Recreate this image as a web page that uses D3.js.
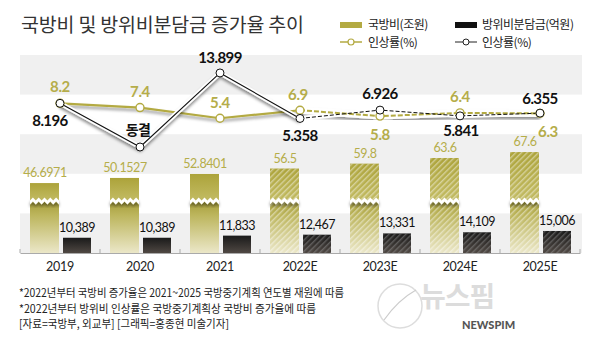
<!DOCTYPE html>
<html>
<head>
<meta charset="utf-8">
<script src="https://cdn.jsdelivr.net/npm/d3@7"></script>
<style>
  body { margin: 0; background: #fff; }
  svg { display: block; }
  .kr { font-family: "Noto Sans CJK KR", "Noto Sans", sans-serif; }
  .num { font-family: Lato, "Noto Sans", sans-serif; }
</style>
</head>
<body>
<div id="chart"></div>
<script>
/* DATA */
const years = ["2019", "2020", "2021", "2022E", "2023E", "2024E", "2025E"];
const budget = [46.6971, 50.1527, 52.8401, 56.5, 59.8, 63.6, 67.6];        // 국방비(조원)
const share = [10389, 10389, 11833, 12467, 13331, 14109, 15006];          // 방위비분담금(억원)
const budgetRate = [8.2, 7.4, 5.4, 6.9, 5.8, 6.4, 6.3];                   // 국방비 인상률(%)
const shareRate = [8.196, 0, 13.899, 5.358, 6.926, 5.841, 6.355];         // 방위비분담금 인상률(%)
const notes = [
  "*2022년부터 국방비 증가율은 2021~2025 국방중기계획 연도별 재원에 따름",
  "*2022년부터 방위비 인상률은 국방중기계획상 국방비 증가율에 따름",
  "[자료=국방부, 외교부] [그래픽=홍종현 미술기자]"
];

/* CONSTANTS */
const width = 600, height = 350;
const plot = { left: 20, right: 580, top: 55, base: 253 };
const olive = "#b3aa42", oliveText = "#b5ad4a";

// label placement (dx, dy from the point)
const budgetRateOff = [[0, -11], [0, -11], [0, -10], [-2, -10], [0, 24], [0, -11], [8, 24]];
const shareRateOff = [[-10, 23], [-2, -12], [0, -10], [0, 23], [0, -11], [1, 20], [0, -9]];

const svg = d3.select("#chart").append("svg")
  .attr("width", width)
  .attr("height", height);

const defs = svg.append("defs");

// gradients
const gTop = defs.append("linearGradient").attr("id", "oliveTop").attr("x1", 0).attr("x2", 0).attr("y1", 0).attr("y2", 1);
gTop.append("stop").attr("offset", 0).attr("stop-color", "#aca33a");
gTop.append("stop").attr("offset", 1).attr("stop-color", "#c3bc64");

const gBottom = defs.append("linearGradient").attr("id", "oliveBottom").attr("gradientUnits", "userSpaceOnUse")
  .attr("x1", 0).attr("x2", 0).attr("y1", 203).attr("y2", plot.base);
gBottom.append("stop").attr("offset", 0).attr("stop-color", "#a9a13e");
gBottom.append("stop").attr("offset", 0.25).attr("stop-color", "#bdb65e");
gBottom.append("stop").attr("offset", 1).attr("stop-color", "#ebe7c8");

const gBlack = defs.append("linearGradient").attr("id", "blackGrad").attr("x1", 0).attr("x2", 0).attr("y1", 0).attr("y2", 1);
gBlack.append("stop").attr("offset", 0).attr("stop-color", "#1a1a1a");
gBlack.append("stop").attr("offset", 1).attr("stop-color", "#4f4843");

// hatch patterns for estimates
function hatch(id, color, op) {
  const p = defs.append("pattern").attr("id", id)
    .attr("patternUnits", "userSpaceOnUse")
    .attr("width", 4).attr("height", 4)
    .attr("patternTransform", "rotate(45)");
  p.append("rect").attr("x", 0).attr("y", 0).attr("width", 1.4).attr("height", 4)
    .attr("fill", color).attr("opacity", op);
}
hatch("hatchOlive", "#ffffff", 0.45);
hatch("hatchBlack", "#9a9a9a", 0.45);

// drop shadow
const f = defs.append("filter").attr("id", "shadow").attr("x", "-20%").attr("y", "-50%").attr("width", "140%").attr("height", "200%");
f.append("feDropShadow").attr("dx", 0).attr("dy", 2.5).attr("stdDeviation", 1.8)
  .attr("flood-color", "#000").attr("flood-opacity", 0.45);

/* SCALES */
const xScale = d3.scaleBand().domain(years).range([plot.left, plot.right]);
const cx = d => xScale(d) + xScale.bandwidth() / 2;

// broken axis for 국방비
const yBudget = d3.scaleLinear().domain([40, 70]).range([193, 148.5]);
const yShare = d3.scaleLinear().domain([0, 16000]).range([plot.base, plot.base - 23.5]);
const yRate = d3.scaleLinear().domain([0, 14]).range([147, 72.4]);

/* BACKGROUND BANDS */
const bandH = (plot.base - plot.top) / 5;
svg.append("g").selectAll("rect")
  .data(d3.range(0, 5, 2))
  .join("rect")
  .attr("x", plot.left)
  .attr("y", i => plot.top + i * bandH)
  .attr("width", plot.right - plot.left + 2)
  .attr("height", bandH)
  .attr("fill", "#f0f0f0");

/* TITLE */
svg.append("text").attr("class", "kr")
  .attr("x", 21).attr("y", 32)
  .attr("font-size", 19.5).attr("letter-spacing", -0.2)
  .attr("fill", "#333")
  .text("국방비 및 방위비분담금 증가율 추이");

/* LEGEND */
const legend = svg.append("g").attr("class", "kr").attr("font-size", 12).attr("letter-spacing", -0.5).attr("fill", "#222");
legend.append("rect").attr("x", 340).attr("y", 22).attr("width", 22).attr("height", 6).attr("fill", olive);
legend.append("text").attr("x", 368).attr("y", 29).text("국방비(조원)");
legend.append("rect").attr("x", 455).attr("y", 22).attr("width", 22).attr("height", 6).attr("fill", "#111");
legend.append("text").attr("x", 482).attr("y", 29).text("방위비분담금(억원)");
legend.append("line").attr("x1", 340).attr("x2", 362).attr("y1", 42).attr("y2", 42).attr("stroke", olive).attr("stroke-width", 1.5);
legend.append("circle").attr("cx", 351).attr("cy", 42).attr("r", 3).attr("fill", "#fff").attr("stroke", olive).attr("stroke-width", 1.2);
legend.append("text").attr("x", 368).attr("y", 47).text("인상률(%)");
legend.append("line").attr("x1", 455).attr("x2", 477).attr("y1", 42).attr("y2", 42).attr("stroke", "#222").attr("stroke-width", 1);
legend.append("circle").attr("cx", 466).attr("cy", 42).attr("r", 3).attr("fill", "#fff").attr("stroke", "#222").attr("stroke-width", 1);
legend.append("text").attr("x", 482).attr("y", 47).text("인상률(%)");

/* BARS */
const rows = years.map((y, i) => ({ year: y, budget: budget[i], share: share[i], est: y.endsWith("E") }));

const bars = svg.append("g").selectAll("g")
  .data(rows)
  .join("g");

// olive bar upper part
bars.append("rect")
  .attr("x", d => cx(d.year) - 30)
  .attr("y", d => yBudget(d.budget))
  .attr("width", 29)
  .attr("height", d => 201 - yBudget(d.budget))
  .attr("fill", "url(#oliveTop)");
// olive bar lower part
bars.append("rect")
  .attr("x", d => cx(d.year) - 30)
  .attr("y", 201)
  .attr("width", 29)
  .attr("height", plot.base - 201)
  .attr("fill", "url(#oliveBottom)");
bars.filter(d => d.est).append("rect")
  .attr("x", d => cx(d.year) - 30)
  .attr("y", d => yBudget(d.budget))
  .attr("width", 29)
  .attr("height", d => plot.base - yBudget(d.budget))
  .attr("fill", "url(#hatchOlive)");

// zigzag break
function zigzag(x0, w) {
  const pts = [];
  const n = 5, step = w / n;
  for (let k = 0; k <= n * 2; k++) pts.push([x0 + k * step / 2, k % 2 ? 197.5 : 200.5]);
  for (let k = n * 2; k >= 0; k--) pts.push([x0 + k * step / 2, k % 2 ? 201.5 : 204.5]);
  return "M" + pts.map(p => p.join(",")).join("L") + "Z";
}
bars.append("path")
  .attr("d", d => zigzag(cx(d.year) - 30, 29))
  .attr("fill", "#fff")
  .attr("filter", "url(#shadow)");

// black bars
bars.append("rect")
  .attr("x", d => cx(d.year) + 3)
  .attr("y", d => yShare(d.share))
  .attr("width", 28)
  .attr("height", d => plot.base - yShare(d.share))
  .attr("fill", "url(#blackGrad)");
bars.filter(d => d.est).append("rect")
  .attr("x", d => cx(d.year) + 3)
  .attr("y", d => yShare(d.share))
  .attr("width", 28)
  .attr("height", d => plot.base - yShare(d.share))
  .attr("fill", "url(#hatchBlack)");

// bar labels
bars.append("text").attr("class", "num")
  .attr("x", d => cx(d.year) - 15)
  .attr("y", d => yBudget(d.budget) - 6)
  .attr("text-anchor", "middle")
  .attr("font-size", 12.5).attr("letter-spacing", -0.4)
  .attr("fill", oliveText)
  .text(d => String(d.budget));
bars.append("text").attr("class", "num")
  .attr("x", d => cx(d.year) + 17)
  .attr("y", d => yShare(d.share) - 6)
  .attr("text-anchor", "middle")
  .attr("font-size", 12.5).attr("letter-spacing", -0.5)
  .attr("fill", "#111")
  .text(d => d3.format(",")(d.share));

/* AXIS */
const xAxis = d3.axisBottom(xScale).tickSize(0).tickPadding(9);
const axisG = svg.append("g")
  .attr("transform", `translate(0, ${plot.base})`)
  .call(xAxis);
axisG.select(".domain").attr("stroke", "#aaa");
axisG.selectAll("text").attr("class", "num").attr("font-size", 12.5).attr("letter-spacing", -0.3).attr("fill", "#222");
axisG.selectAll(".bound")
  .data(d3.range(years.length + 1))
  .join("line")
  .attr("class", "bound")
  .attr("x1", i => plot.left + i * xScale.bandwidth())
  .attr("x2", i => plot.left + i * xScale.bandwidth())
  .attr("y1", -4).attr("y2", 0)
  .attr("stroke", "#aaa");

/* LINES */
const pts = (vals) => vals.map((v, i) => [cx(years[i]), yRate(v)]);
const line = d3.line();
const bPts = pts(budgetRate), sPts = pts(shareRate);
const solidB = bPts.slice(0, 4), dashB = bPts.slice(3);
const solidS = sPts.slice(0, 4), dashS = sPts.slice(3);

const lines = svg.append("g").attr("fill", "none");

// solid part
lines.append("path").attr("d", line(solidB))
  .attr("stroke", olive).attr("stroke-width", 2.2).attr("filter", "url(#shadow)");
lines.append("path").attr("d", line(solidS))
  .attr("stroke", "#fff").attr("stroke-width", 4.5).attr("stroke-linejoin", "round").attr("filter", "url(#shadow)");
lines.append("path").attr("d", line(solidS))
  .attr("stroke", "#111").attr("stroke-width", 1.1);

// dashed part (estimates)
lines.append("path").attr("d", line(dashB))
  .attr("stroke", "#fff").attr("stroke-width", 7).attr("stroke-linejoin", "round").attr("filter", "url(#shadow)");
lines.append("path").attr("d", line(dashS))
  .attr("stroke", "#fff").attr("stroke-width", 5).attr("stroke-linejoin", "round");
lines.append("path").attr("d", line(dashB))
  .attr("stroke", olive).attr("stroke-width", 2).attr("stroke-dasharray", "5,2");
lines.append("path").attr("d", line(dashS))
  .attr("stroke", "#111").attr("stroke-width", 1).attr("stroke-dasharray", "4,2");

// points
svg.append("g").selectAll("circle")
  .data(bPts).join("circle")
  .attr("cx", d => d[0]).attr("cy", d => d[1]).attr("r", 4)
  .attr("fill", "#fff").attr("stroke", olive).attr("stroke-width", 1.4);
svg.append("g").selectAll("circle")
  .data(sPts).join("circle")
  .attr("cx", d => d[0]).attr("cy", d => d[1]).attr("r", 4)
  .attr("fill", "#fff").attr("stroke", "#111").attr("stroke-width", 1);

// rate labels
svg.append("g").selectAll("text")
  .data(budgetRate).join("text")
  .attr("class", "num")
  .attr("x", (d, i) => bPts[i][0] + budgetRateOff[i][0])
  .attr("y", (d, i) => bPts[i][1] + budgetRateOff[i][1])
  .attr("text-anchor", "middle")
  .attr("font-size", 15).attr("font-weight", 700).attr("letter-spacing", -0.4)
  .attr("fill", oliveText)
  .text(d => d3.format(".1f")(d));
svg.append("g").selectAll("text")
  .data(shareRate).join("text")
  .attr("class", d => d === 0 ? "kr" : "num")
  .attr("x", (d, i) => sPts[i][0] + shareRateOff[i][0])
  .attr("y", (d, i) => sPts[i][1] + shareRateOff[i][1])
  .attr("text-anchor", "middle")
  .attr("font-size", d => d === 0 ? 14 : 15).attr("font-weight", 700).attr("letter-spacing", -0.6)
  .attr("fill", "#111")
  .text(d => d === 0 ? "동결" : String(d));

/* NOTES */
const noteW = [325, 297, 210];
svg.append("g").attr("class", "kr").selectAll("text")
  .data(notes).join("text")
  .attr("x", 19)
  .attr("y", (d, i) => 297 + i * 15.5)
  .attr("font-size", 11.5)
  .attr("textLength", (d, i) => noteW[i])
  .attr("lengthAdjust", "spacingAndGlyphs")
  .attr("fill", "#222")
  .text(d => d);

/* LOGO */
const logo = svg.append("g");
logo.append("circle").attr("cx", 400).attr("cy", 306).attr("r", 22)
  .attr("fill", "none").attr("stroke", "#ddd").attr("stroke-width", 1.5);
logo.append("path").attr("d", "M384,320 Q398,300 416,290")
  .attr("fill", "none").attr("stroke", "#ccc").attr("stroke-width", 1.2);
logo.append("text").attr("class", "kr")
  .attr("x", 420).attr("y", 307)
  .attr("font-size", 28).attr("font-weight", 700).attr("letter-spacing", -1)
  .attr("fill", "#dcdcdc")
  .text("뉴스핌");
logo.append("text").attr("class", "num")
  .attr("x", 462).attr("y", 329)
  .attr("font-size", 11).attr("font-weight", 900)
  .attr("fill", "#555")
  .text("NEWSPIM");
</script>
</body>
</html>
